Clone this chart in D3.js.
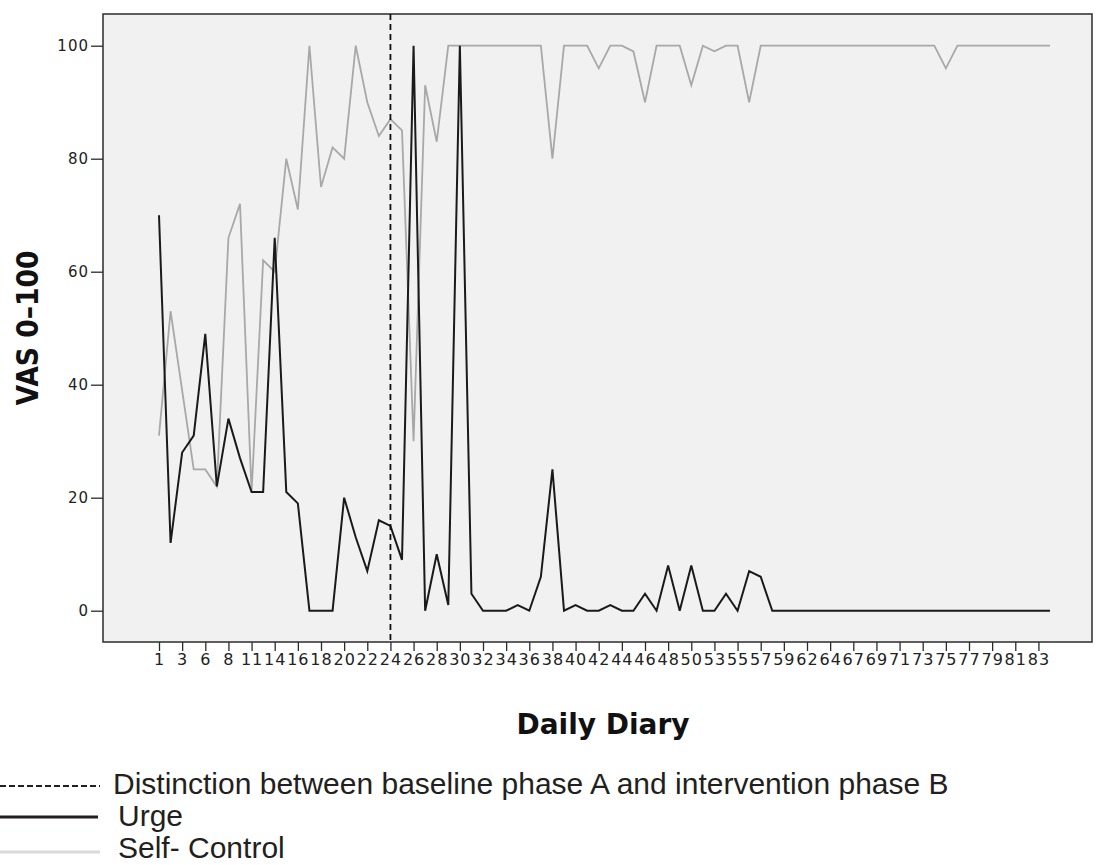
<!DOCTYPE html>
<html>
<head>
<meta charset="utf-8">
<script src="https://cdn.jsdelivr.net/npm/d3@7"></script>
<style>
  html, body { margin: 0; padding: 0; background: #ffffff; }
  svg { display: block; }
</style>
</head>
<body>
<div id="chart"></div>
<script>
// Diary days (x categories), labels shown on every second one
const days = [1, 2, 3, 5, 6, 7, 8, 10, 11, 13, 14, 15, 16, 17, 18, 19, 20, 21, 22, 23,
              24, 25, 26, 27, 28, 29, 30, 31, 32, 33, 34, 35, 36, 37, 38, 39, 40, 41, 42, 43,
              44, 45, 46, 47, 48, 49, 50, 52, 53, 54, 55, 56, 57, 58, 59, 61, 62, 63, 64, 66,
              67, 68, 69, 70, 71, 72, 73, 74, 75, 76, 77, 78, 79, 80, 81, 82, 83, 84];

const urge = [70, 12, 28, 31, 49, 22, 34, 27, 21, 21, 66, 21, 19, 0, 0, 0, 20, 13, 7, 16,
              15, 9, 100, 0, 10, 1, 100, 3, 0, 0, 0, 1, 0, 6, 25, 0, 1, 0, 0, 1,
              0, 0, 3, 0, 8, 0, 8, 0, 0, 3, 0, 7, 6, 0, 0, 0, 0, 0, 0, 0,
              0, 0, 0, 0, 0, 0, 0, 0, 0, 0, 0, 0, 0, 0, 0, 0, 0, 0];

const selfControl = [31, 53, 39, 25, 25, 22, 66, 72, 21, 62, 60, 80, 71, 100, 75, 82, 80, 100, 90, 84,
                     87, 85, 30, 93, 83, 100, 100, 100, 100, 100, 100, 100, 100, 100, 80, 100, 100, 100, 96, 100,
                     100, 99, 90, 100, 100, 100, 93, 100, 99, 100, 100, 90, 100, 100, 100, 100, 100, 100, 100, 100,
                     100, 100, 100, 100, 100, 100, 100, 100, 96, 100, 100, 100, 100, 100, 100, 100, 100, 100];

const yTicks = [0, 20, 40, 60, 80, 100];
const phaseChangeDay = 24;

const legendItems = [
    { label: 'Distinction between baseline phase A and intervention phase B', kind: 'phase' },
    { label: 'Urge',          kind: 'urge' },
    { label: 'Self- Control', kind: 'self' }
];

// ---------------------------------------------------------------------------
const W = 1099, H = 865;
const frame = { left: 103, top: 14, right: 1092, bottom: 642 };

const svg = d3.select('#chart').append('svg')
    .attr('width', W)
    .attr('height', H)
    .attr('viewBox', `0 0 ${W} ${H}`);

const x = d3.scalePoint()
    .domain(days)
    .range([159, 1050]);

const y = d3.scaleLinear()
    .domain([0, 100])
    .range([610.7, 45.7]);

// plot background + frame
svg.append('rect')
    .attr('x', frame.left)
    .attr('y', frame.top)
    .attr('width', frame.right - frame.left)
    .attr('height', frame.bottom - frame.top)
    .attr('fill', '#f0f1f0')
    .attr('stroke', '#2b2b2b')
    .attr('stroke-width', 1.5);

// y axis
const yAxis = svg.append('g')
    .attr('transform', `translate(${frame.left},0)`)
    .call(d3.axisLeft(y).tickValues(yTicks).tickSize(12).tickPadding(2));
yAxis.select('.domain').remove();
yAxis.selectAll('.tick line').attr('stroke', '#2b2b2b').attr('stroke-width', 1.3);
yAxis.selectAll('.tick text')
    .attr('font-family', 'DejaVu Sans, sans-serif')
    .attr('font-size', 15)
    .attr('letter-spacing', 1)
    .attr('fill', '#222');

// x axis (every second day gets a tick + label)
const xTickDays = days.filter((d, i) => i % 2 === 0);
const xAxis = svg.append('g')
    .attr('transform', `translate(0,${frame.bottom})`)
    .call(d3.axisBottom(x).tickValues(xTickDays).tickSize(9).tickPadding(3));
xAxis.select('.domain').remove();
xAxis.selectAll('.tick line').attr('stroke', '#2b2b2b').attr('stroke-width', 1.3);
xAxis.selectAll('.tick text')
    .attr('font-family', 'DejaVu Sans, sans-serif')
    .attr('font-size', 16)
    .attr('letter-spacing', 1)
    .attr('fill', '#222');

// axis titles
svg.append('text')
    .attr('transform', `translate(38,328) rotate(-90)`)
    .attr('text-anchor', 'middle')
    .attr('font-family', 'DejaVu Sans, sans-serif')
    .attr('font-weight', 'bold')
    .attr('font-size', 31)
    .attr('textLength', 155)
    .attr('lengthAdjust', 'spacingAndGlyphs')
    .attr('fill', '#111')
    .text('VAS 0–100');

svg.append('text')
    .attr('x', 603)
    .attr('y', 734)
    .attr('text-anchor', 'middle')
    .attr('font-family', 'DejaVu Sans, sans-serif')
    .attr('font-weight', 'bold')
    .attr('font-size', 28)
    .attr('fill', '#111')
    .text('Daily Diary');

// series
const line = d3.line()
    .x((d, i) => x(days[i]))
    .y(d => y(d));

svg.append('path')
    .datum(selfControl)
    .attr('fill', 'none')
    .attr('stroke', '#a8a8a8')
    .attr('stroke-width', 1.8)
    .attr('d', line);

svg.append('path')
    .datum(urge)
    .attr('fill', 'none')
    .attr('stroke', '#1a1a1a')
    .attr('stroke-width', 2)
    .attr('d', line);

// phase A / B divider
svg.append('line')
    .attr('x1', x(phaseChangeDay)).attr('x2', x(phaseChangeDay))
    .attr('y1', frame.top).attr('y2', frame.bottom)
    .attr('stroke', '#111')
    .attr('stroke-width', 1.8)
    .attr('stroke-dasharray', '6,4');

// legend (below the chart, flush left)
const legendY = [786, 817, 852];
const legendTextX = [113, 118, 118];
const legendTextY = [794, 826, 858];
const lg = svg.append('g');
legendItems.forEach((item, i) => {
    const ln = lg.append('line')
        .attr('x1', 0).attr('x2', 100)
        .attr('y1', legendY[i]).attr('y2', legendY[i]);
    if (item.kind === 'phase') {
        ln.attr('stroke', '#231f20').attr('stroke-width', 2).attr('stroke-dasharray', '6,3');
    } else if (item.kind === 'urge') {
        ln.attr('stroke', '#231f20').attr('stroke-width', 3).attr('x2', 98);
    } else {
        ln.attr('stroke', '#d9d9d9').attr('stroke-width', 3);
    }
    lg.append('text')
        .attr('x', legendTextX[i])
        .attr('y', legendTextY[i])
        .attr('font-family', 'Liberation Sans, Arial, sans-serif')
        .attr('font-size', 30)
        .attr('fill', '#231f20')
        .text(item.label);
});
</script>
</body>
</html>
